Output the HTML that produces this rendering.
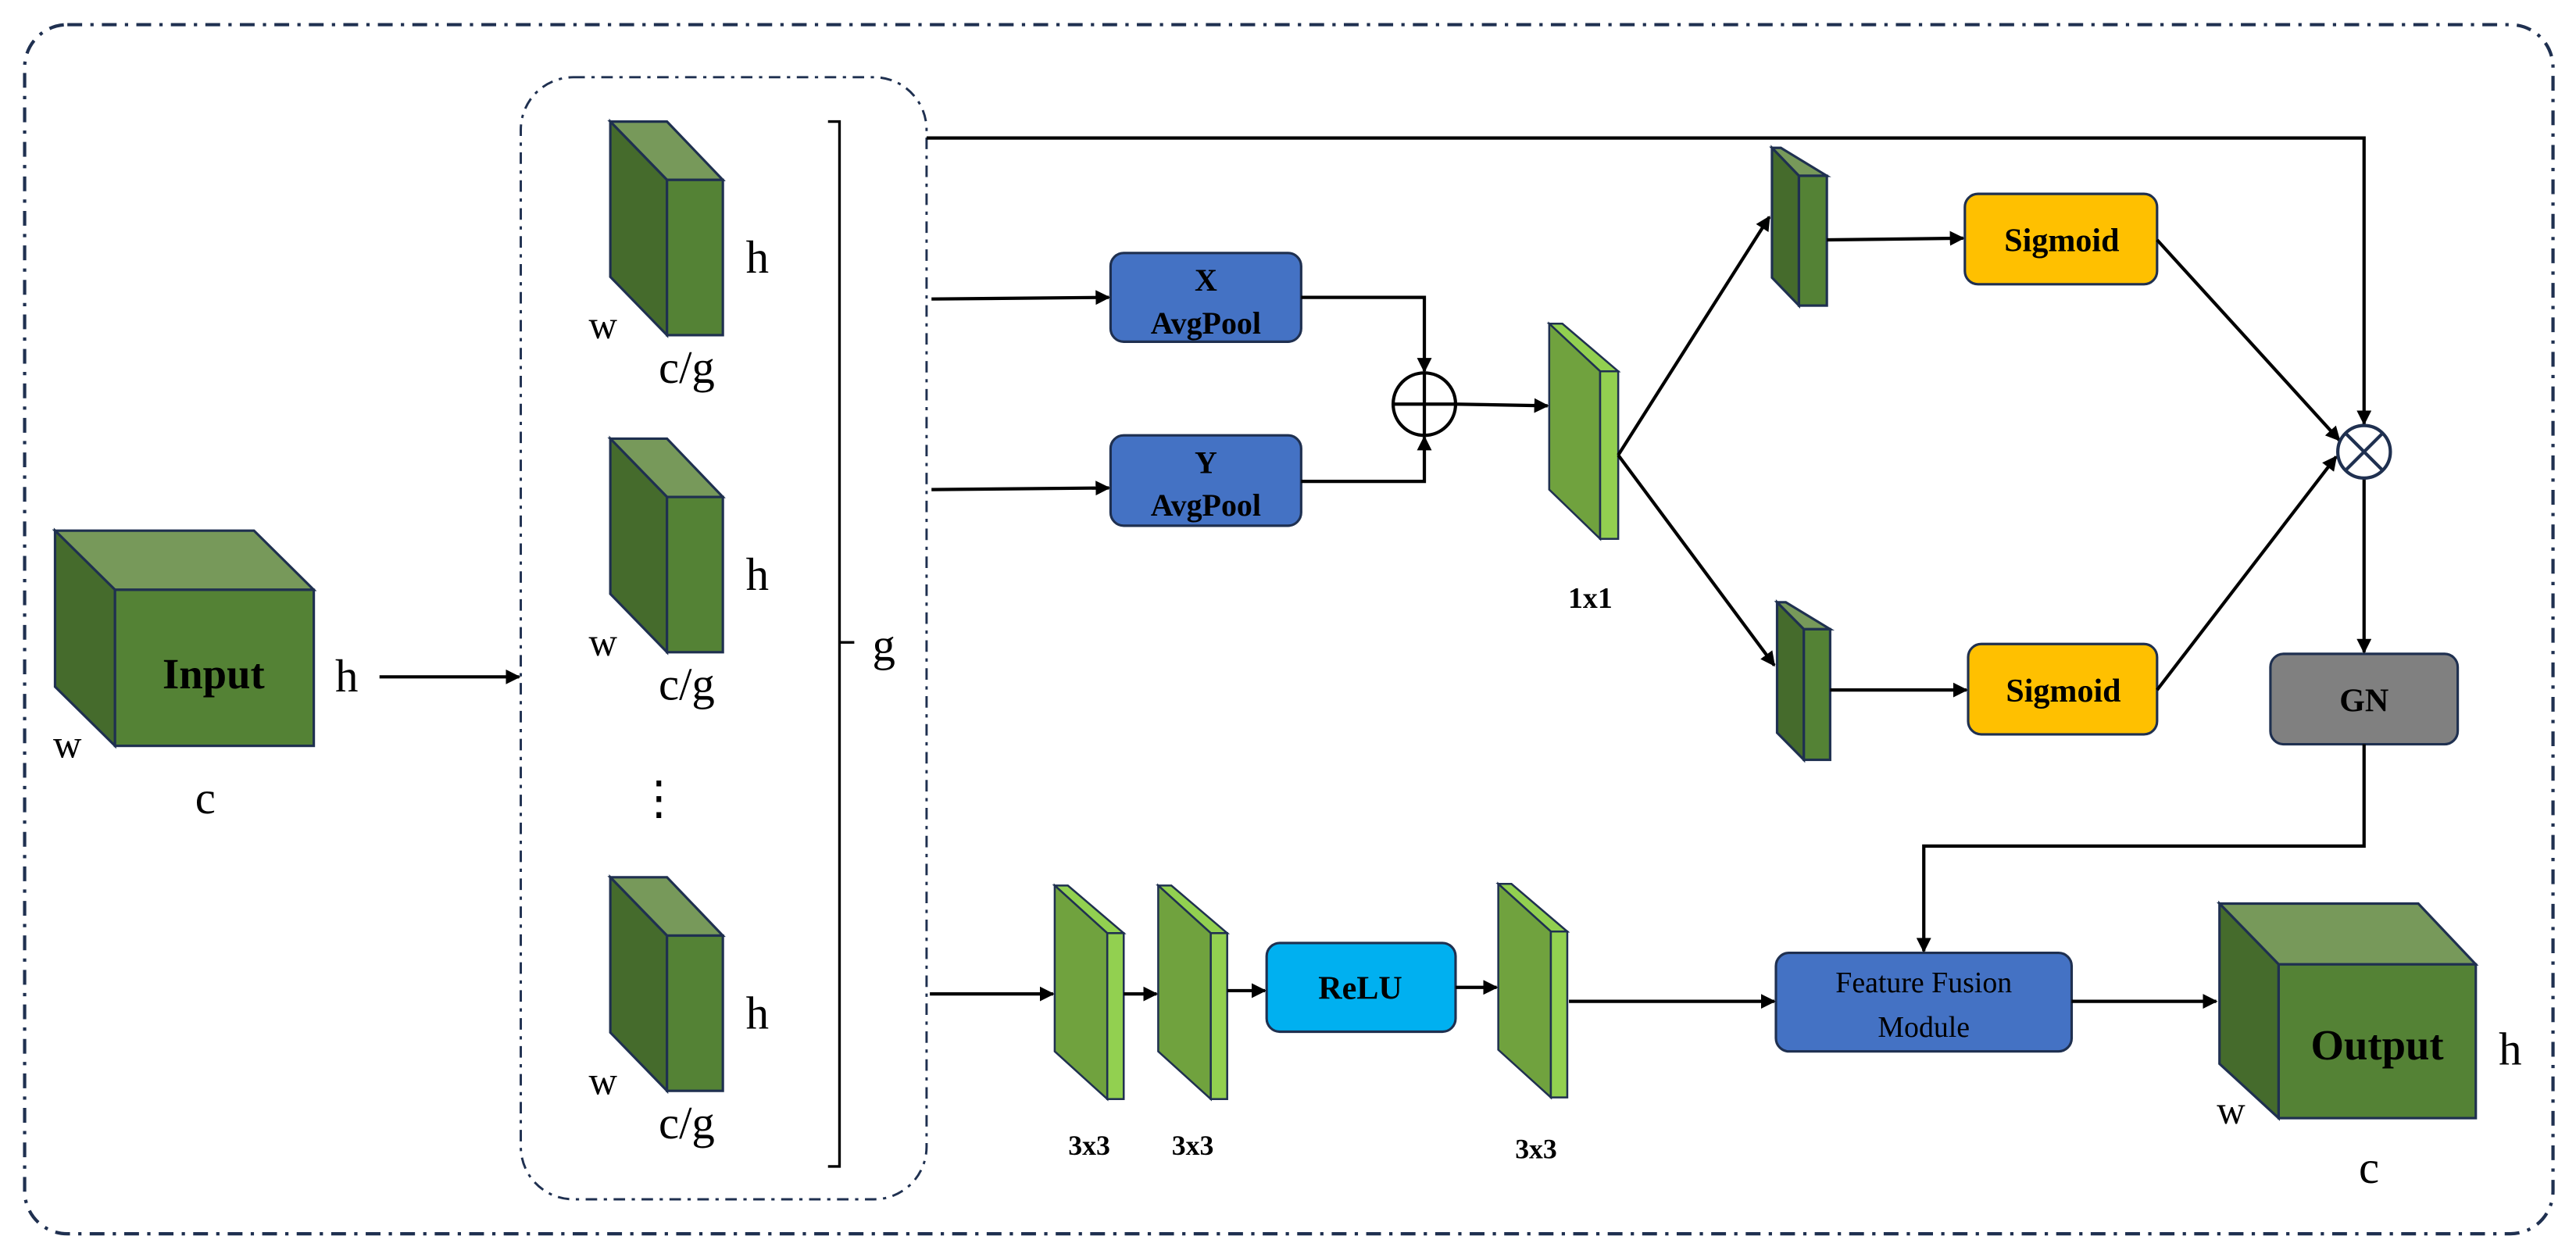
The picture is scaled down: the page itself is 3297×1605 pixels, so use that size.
<!DOCTYPE html>
<html><head><meta charset="utf-8"><style>
html,body{margin:0;padding:0;background:#fff;}
svg{display:block;}
text{font-family:"Liberation Serif",serif;}
</style></head><body>
<svg width="3297" height="1605" viewBox="0 0 1568 763.3" xmlns="http://www.w3.org/2000/svg">
<defs>
<marker id="a" viewBox="0 0 10 10" refX="9" refY="5" markerWidth="9" markerHeight="9" markerUnits="userSpaceOnUse" orient="auto">
<path d="M0,0 L10,5 L0,10 z" fill="#000"/></marker>
</defs>
<rect x="15" y="15" width="1539" height="736" rx="26" fill="none" stroke="#1f3050" stroke-width="2" stroke-dasharray="9 5 2 5"/>
<rect x="317" y="47" width="247" height="683" rx="32" fill="none" stroke="#1f3050" stroke-width="1.4" stroke-dasharray="7 4 2 4"/>

<g stroke="#1f3050" stroke-width="1.5">
<polygon points="33.5,323 154.6,323 191,359 70,359" fill="#77995a"/>
<polygon points="33.5,323 70,359 70,454 33.5,418" fill="#456b2c"/>
<rect x="70" y="359" width="121" height="95" fill="#548235"/>
<g id="sc">
<polygon points="371.5,74 406,74 440,109.5 406,109.5" fill="#77995a"/>
<polygon points="371.5,74 406,109.5 406,204 371.5,168.5" fill="#456b2c"/>
<rect x="406" y="109.5" width="34" height="94.5" fill="#548235"/>
</g>
<use href="#sc" y="193"/>
<use href="#sc" y="460"/>
<polygon points="1078.6,90 1084,90 1112,107 1095,107" fill="#77995a"/>
<polygon points="1078.6,90 1095,107 1095,186 1078.6,169" fill="#456b2c"/>
<rect x="1095" y="107" width="17" height="79" fill="#548235"/>
<polygon points="1081.7,366.6 1087,366.6 1114,383 1098,383" fill="#77995a"/>
<polygon points="1081.7,366.6 1098,383 1098,462.5 1081.7,446" fill="#456b2c"/>
<rect x="1098" y="383" width="16" height="79.5" fill="#548235"/>
<polygon points="1351,550 1472,550 1507,587 1387,587" fill="#77995a"/>
<polygon points="1351,550 1387,587 1387,680.6 1351,647.5" fill="#456b2c"/>
<rect x="1387" y="587" width="120" height="93.6" fill="#548235"/>
</g>

<g stroke="#1f3050" stroke-width="1.2">
<g id="sl1">
<polygon points="943,197 951,197 985,226 974,226" fill="#92d050"/>
<polygon points="943,197 974,226 974,328 943,298" fill="#70a23e"/>
<rect x="974" y="226" width="11" height="102" fill="#92d050"/>
</g>
<g id="s3">
<polygon points="642,539 650,539 684,568 674,568" fill="#92d050"/>
<polygon points="642,539 674,568 674,669 642,640" fill="#70a23e"/>
<rect x="674" y="568" width="10" height="101" fill="#92d050"/>
</g>
<use href="#s3" x="63"/>
<use href="#s3" x="270" y="-1"/>
</g>

<g stroke="#1f3050" stroke-width="1.5">
<rect x="676" y="154" width="116" height="54" rx="8" fill="#4472c4"/>
<rect x="676" y="265" width="116" height="55" rx="8" fill="#4472c4"/>
<rect x="1196" y="118" width="117" height="55" rx="8" fill="#ffc000"/>
<rect x="1198" y="392" width="115" height="55" rx="8" fill="#ffc000"/>
<rect x="1382" y="398" width="114" height="55" rx="8" fill="#808080"/>
<rect x="1081" y="580" width="180" height="60" rx="8" fill="#4472c4"/>
<rect x="771" y="574" width="115" height="54" rx="8" fill="#00b0f0"/>
</g>

<g stroke="#000" stroke-width="2" fill="none">
<line x1="231" y1="412" x2="316" y2="412" marker-end="url(#a)"/>
<polyline points="564,84 1439,84 1439,258" marker-end="url(#a)"/>
<line x1="567" y1="182" x2="675" y2="181" marker-end="url(#a)"/>
<line x1="567" y1="298" x2="675" y2="297" marker-end="url(#a)"/>
<polyline points="792,181 867,181 867,226" marker-end="url(#a)"/>
<polyline points="792,293 867,293 867,266" marker-end="url(#a)"/>
<circle cx="867" cy="246" r="19"/>
<line x1="848" y1="246" x2="886" y2="246"/>
<line x1="867" y1="227" x2="867" y2="265"/>
<line x1="886" y1="246" x2="942" y2="247" marker-end="url(#a)"/>
<line x1="985" y1="277" x2="1077" y2="132" marker-end="url(#a)"/>
<line x1="985" y1="277" x2="1080" y2="405" marker-end="url(#a)"/>
<line x1="1112" y1="146" x2="1195" y2="145" marker-end="url(#a)"/>
<line x1="1114" y1="420" x2="1197" y2="420" marker-end="url(#a)"/>
<line x1="1313" y1="146" x2="1424" y2="268" marker-end="url(#a)"/>
<line x1="1313" y1="420" x2="1422" y2="278" marker-end="url(#a)"/>
<line x1="1439" y1="291" x2="1439" y2="397" marker-end="url(#a)"/>
<polyline points="1439,453 1439,515 1171,515 1171,579" marker-end="url(#a)"/>
<line x1="566" y1="605" x2="641" y2="605" marker-end="url(#a)"/>
<line x1="684" y1="605" x2="704" y2="605" marker-end="url(#a)"/>
<line x1="747" y1="603" x2="770" y2="603" marker-end="url(#a)"/>
<line x1="886" y1="601" x2="911" y2="601" marker-end="url(#a)"/>
<line x1="955" y1="609.5" x2="1080" y2="609.5" marker-end="url(#a)"/>
<line x1="1261" y1="609.5" x2="1349" y2="609.5" marker-end="url(#a)"/>
<polyline points="504,74 511,74 511,391 520,391 511,391 511,710 504,710" stroke-width="1.6"/>
</g>
<g stroke="#1f3050" stroke-width="2" fill="#fff">
<circle cx="1439" cy="275" r="16"/>
<line x1="1428" y1="264" x2="1450" y2="286"/>
<line x1="1450" y1="264" x2="1428" y2="286"/>
</g>

<g fill="#000" text-anchor="middle">
<text x="130" y="419" font-size="26" font-weight="bold">Input</text>
<text x="211" y="421" font-size="28">h</text>
<text x="41" y="461" font-size="24">w</text>
<text x="125" y="495" font-size="28">c</text>
<text x="461" y="166" font-size="28">h</text>
<text x="367" y="206" font-size="24">w</text>
<text x="418" y="233" font-size="28">c/g</text>
<text x="461" y="359" font-size="28">h</text>
<text x="367" y="399" font-size="24">w</text>
<text x="418" y="426" font-size="28">c/g</text>
<text x="461" y="626" font-size="28">h</text>
<text x="367" y="666" font-size="24">w</text>
<text x="418" y="693" font-size="28">c/g</text>
<text x="538" y="402" font-size="28">g</text>
<text x="401" y="495" font-size="28">⋮</text>
<text x="734" y="177" font-size="19" font-weight="bold">X</text>
<text x="734" y="203" font-size="19" font-weight="bold">AvgPool</text>
<text x="734" y="288" font-size="19" font-weight="bold">Y</text>
<text x="734" y="314" font-size="19" font-weight="bold">AvgPool</text>
<text x="968" y="370" font-size="18" font-weight="bold">1x1</text>
<text x="1255" y="153" font-size="20" font-weight="bold">Sigmoid</text>
<text x="1256" y="427" font-size="20" font-weight="bold">Sigmoid</text>
<text x="1439" y="433" font-size="20" font-weight="bold">GN</text>
<text x="1171" y="604" font-size="18">Feature Fusion</text>
<text x="1171" y="631" font-size="18">Module</text>
<text x="828" y="608" font-size="20" font-weight="bold">ReLU</text>
<text x="663" y="703" font-size="17" font-weight="bold">3x3</text>
<text x="726" y="703" font-size="17" font-weight="bold">3x3</text>
<text x="935" y="705" font-size="17" font-weight="bold">3x3</text>
<text x="1447" y="645" font-size="26" font-weight="bold">Output</text>
<text x="1528" y="648" font-size="28">h</text>
<text x="1358" y="684" font-size="24">w</text>
<text x="1442" y="720" font-size="28">c</text>
</g>
</svg>
</body></html>
